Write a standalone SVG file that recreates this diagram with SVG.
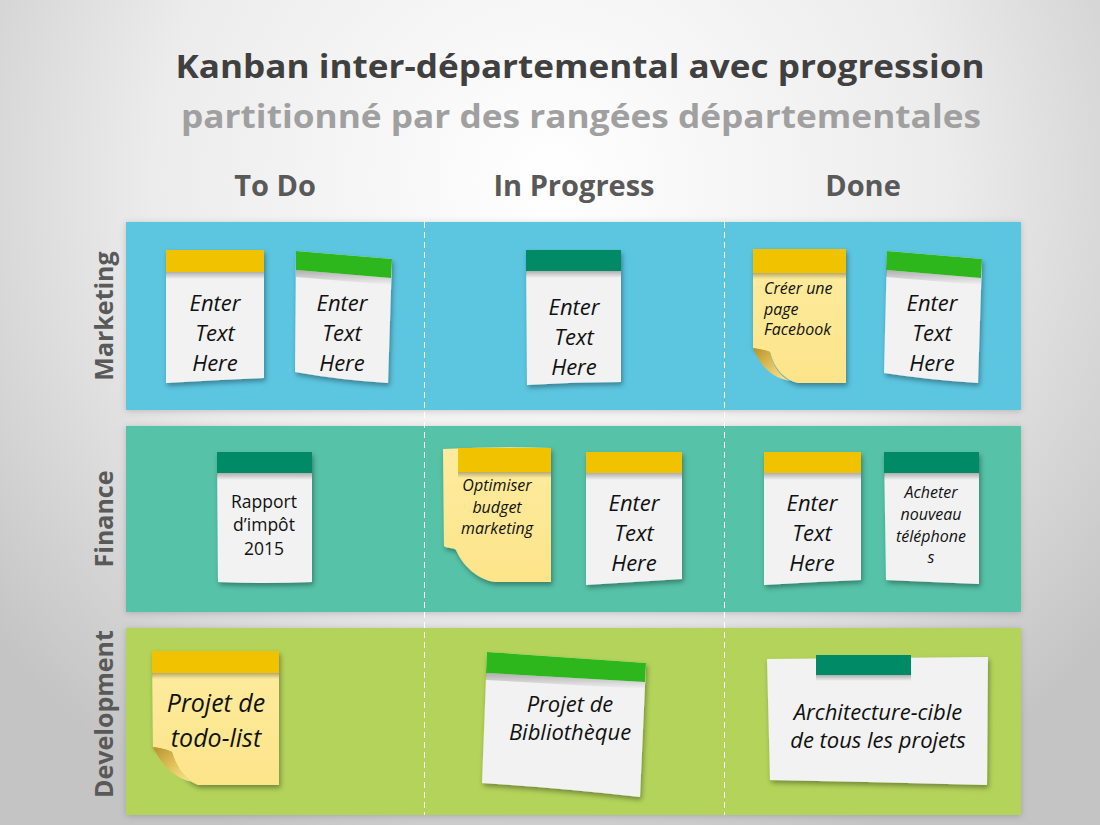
<svg xmlns="http://www.w3.org/2000/svg" width="1100" height="825" viewBox="0 0 1100 825">
<defs>
  <radialGradient id="bg" cx="550" cy="180" r="720" gradientUnits="userSpaceOnUse">
    <stop offset="0" stop-color="#ffffff"/>
    <stop offset="0.55" stop-color="#ececec"/>
    <stop offset="1" stop-color="#c4c4c4"/>
  </radialGradient>
  <linearGradient id="tabsh" x1="0" y1="0" x2="0" y2="1">
    <stop offset="0" stop-color="#000" stop-opacity="0.28"/>
    <stop offset="1" stop-color="#000" stop-opacity="0"/>
  </linearGradient>
  <linearGradient id="yel" x1="0" y1="0" x2="0" y2="1">
    <stop offset="0" stop-color="#fdec9f"/>
    <stop offset="1" stop-color="#fce48a"/>
  </linearGradient>
  <linearGradient id="curl" x1="0" y1="0" x2="1" y2="1">
    <stop offset="0" stop-color="#b8912a"/>
    <stop offset="0.6" stop-color="#e8c964"/>
    <stop offset="1" stop-color="#fbe59a"/>
  </linearGradient>
  <filter id="sh" x="-20%" y="-20%" width="140%" height="140%">
    <feDropShadow dx="1.5" dy="3" stdDeviation="2.5" flood-color="#000" flood-opacity="0.35"/>
  </filter>
  <filter id="rsh" x="-5%" y="-10%" width="110%" height="120%">
    <feDropShadow dx="0" dy="1" stdDeviation="3" flood-color="#000" flood-opacity="0.18"/>
  </filter>
  <style>
    .title{font-family:"Open Sans","Liberation Sans",sans-serif;font-weight:bold;font-size:33px;text-anchor:middle}
    .col{font-family:"Open Sans","Liberation Sans",sans-serif;font-weight:bold;font-size:29px;fill:#595959;text-anchor:middle}
    .row{font-family:"Open Sans","Liberation Sans",sans-serif;font-weight:bold;font-size:25px;fill:#595959;text-anchor:middle}
    .body{fill:#f2f2f2}
    .ybody{fill:url(#yel)}
    .yt{fill:#f0c200}
    .gt{fill:#2db71c}
    .tt{fill:#008a65}
    .tsh{fill:url(#tabsh)}
    .t{font-family:"Open Sans","Liberation Sans",sans-serif;font-style:italic;fill:#111;text-anchor:middle}
    .st{text-anchor:start}
    .big{font-size:22px}
    .mid{font-size:22px}
    .sm{font-size:16px}
  </style>
</defs>

<g id="background">
  <rect width="1100" height="825" fill="url(#bg)"/>
</g>

<g id="titles">
  <text class="title" x="580" y="78" fill="#404040" textLength="809" lengthAdjust="spacingAndGlyphs">Kanban inter-départemental avec progression</text>
  <text class="title" x="581" y="128" fill="#a0a0a0" textLength="800" lengthAdjust="spacingAndGlyphs">partitionné par des rangées départementales</text>
  <text class="col" x="275" y="196">To Do</text>
  <text class="col" x="574" y="196">In Progress</text>
  <text class="col" x="863" y="196">Done</text>
</g>

<g id="rows">
  <rect x="126" y="222" width="895" height="188" fill="#5bc5e0" filter="url(#rsh)"/>
  <rect x="126" y="426" width="895" height="186" fill="#57c2a7" filter="url(#rsh)"/>
  <rect x="126" y="628" width="895" height="187" fill="#b3d35a" filter="url(#rsh)"/>
  <text class="row" transform="translate(113,316) rotate(-90)">Marketing</text>
  <text class="row" transform="translate(113,519) rotate(-90)">Finance</text>
  <text class="row" transform="translate(113,714) rotate(-90)">Development</text>
</g>

<g id="connectors">
  <line x1="424.5" y1="222" x2="424.5" y2="815" stroke="#fff" stroke-width="1" stroke-dasharray="6 4"/>
  <line x1="724.5" y1="222" x2="724.5" y2="815" stroke="#fff" stroke-width="1" stroke-dasharray="6 4"/>
</g>

<!-- Marketing -->
<g id="note-mkt-todo-1">
  <path class="body" filter="url(#sh)" d="M166,250 H264 V378 Q215,380 166,383 Z"/>
  <rect class="tsh" x="166" y="272" width="98" height="7"/>
  <rect class="yt" x="166" y="250" width="98" height="22"/>
  <text class="t big" x="215" y="311">Enter</text>
  <text class="t big" x="215" y="341">Text</text>
  <text class="t big" x="215" y="371">Here</text>
</g>

<g id="note-mkt-todo-2">
  <path class="body" filter="url(#sh)" d="M296,251 L392,259 L388,383 Q340,380 295,372 Z"/>
  <polygon class="tsh" points="296,270 391,278 391,285 296,277"/>
  <polygon class="gt" points="296,251 392,259 391,278 296,270"/>
  <text class="t big" x="342" y="311">Enter</text>
  <text class="t big" x="342" y="341">Text</text>
  <text class="t big" x="342" y="371">Here</text>
</g>

<g id="note-mkt-progress-1">
  <path class="body" filter="url(#sh)" d="M526,250 H621 V382 Q574,382 527,385 Z"/>
  <rect class="tsh" x="526" y="271" width="95" height="7"/>
  <rect class="tt" x="526" y="250" width="95" height="21"/>
  <text class="t big" x="574" y="315">Enter</text>
  <text class="t big" x="574" y="345">Text</text>
  <text class="t big" x="574" y="375">Here</text>
</g>

<g id="note-mkt-done-1">
  <path class="ybody" filter="url(#sh)" d="M753,249 H846 V383 H798 C784,380 774,368 770,352 C765,350 758,349 753,348 Z"/>
  <path fill="url(#curl)" d="M753,348 C760,349 766,350 770,352 C773,366 780,376 790,381 C772,378 760,366 753,348 Z"/>
  <rect class="tsh" x="753" y="273" width="93" height="6"/>
  <rect class="yt" x="753" y="249" width="93" height="24"/>
  <text class="t sm st" x="764" y="294">Créer une</text>
  <text class="t sm st" x="764" y="315">page</text>
  <text class="t sm st" x="764" y="335">Facebook</text>
</g>

<g id="note-mkt-done-2">
  <path class="body" filter="url(#sh)" d="M887,251 L982,259 L978,383 Q930,380 884,373 Z"/>
  <polygon class="tsh" points="886,270 981,278 981,285 886,277"/>
  <polygon class="gt" points="887,251 982,259 981,278 886,270"/>
  <text class="t big" x="932" y="311">Enter</text>
  <text class="t big" x="932" y="341">Text</text>
  <text class="t big" x="932" y="371">Here</text>
</g>

<!-- Finance -->
<g id="note-fin-todo-1">
  <path class="body" filter="url(#sh)" d="M217,452 H312 V582 Q264,584 218,582 Z"/>
  <rect class="tsh" x="217" y="473" width="95" height="7"/>
  <rect class="tt" x="217" y="452" width="95" height="21"/>
  <text class="t" style="font-style:normal" font-size="17.5" x="264" y="508">Rapport</text>
  <text class="t" style="font-style:normal" font-size="17.5" x="264" y="531">d’impôt</text>
  <text class="t" style="font-style:normal" font-size="17.5" x="264" y="555">2015</text>
</g>

<g id="note-fin-progress-1">
  <path class="ybody" filter="url(#sh)" d="M443,449 Q500,446 551,448 V582 H495 C478,580 462,565 456,550 C452,547 448,549 444,546 Z"/>
  <rect class="tsh" x="458" y="472" width="93" height="6"/>
  <rect class="yt" x="458" y="448" width="93" height="24"/>
  <text class="t sm" x="497" y="491">Optimiser</text>
  <text class="t sm" x="497" y="513">budget</text>
  <text class="t sm" x="497" y="534">marketing</text>
</g>

<g id="note-fin-progress-2">
  <path class="body" filter="url(#sh)" d="M586,452 H682 V579 Q634,582 586,585 Z"/>
  <rect class="tsh" x="586" y="473" width="96" height="7"/>
  <rect class="yt" x="586" y="452" width="96" height="21"/>
  <text class="t big" x="634" y="511">Enter</text>
  <text class="t big" x="634" y="541">Text</text>
  <text class="t big" x="634" y="571">Here</text>
</g>

<g id="note-fin-done-1">
  <path class="body" filter="url(#sh)" d="M764,452 H861 V580 Q812,582 764,585 Z"/>
  <rect class="tsh" x="764" y="473" width="97" height="7"/>
  <rect class="yt" x="764" y="452" width="97" height="21"/>
  <text class="t big" x="812" y="511">Enter</text>
  <text class="t big" x="812" y="541">Text</text>
  <text class="t big" x="812" y="571">Here</text>
</g>

<g id="note-fin-done-2">
  <path class="body" filter="url(#sh)" d="M884,452 H979 V584 Q930,582 886,580 Z"/>
  <rect class="tsh" x="884" y="473" width="95" height="7"/>
  <rect class="tt" x="884" y="452" width="95" height="21"/>
  <text class="t sm" x="931" y="498">Acheter</text>
  <text class="t sm" x="931" y="520">nouveau</text>
  <text class="t sm" x="931" y="542">téléphone</text>
  <text class="t sm" x="931" y="563">s</text>
</g>

<!-- Development -->
<g id="note-dev-todo-1">
  <path class="ybody" filter="url(#sh)" d="M152,651 H279 V785 H198 C185,780 177,768 172,752 C166,749 159,748 153,747 Z"/>
  <path fill="url(#curl)" d="M153,747 C160,748 166,749 172,752 C176,766 183,776 192,782 C175,778 162,766 153,747 Z"/>
  <rect class="tsh" x="152" y="673" width="127" height="6"/>
  <rect class="yt" x="152" y="651" width="127" height="22"/>
  <text class="t" font-size="25" x="216" y="712">Projet de</text>
  <text class="t" font-size="25" x="216" y="747">todo-list</text>
</g>

<g id="note-dev-progress-1">
  <path class="body" filter="url(#sh)" d="M487,652 L646,663 L640,797 Q560,788 482,783 Z"/>
  <polygon class="tsh" points="486,673 645,682 645,689 486,680"/>
  <polygon class="gt" points="487,652 646,663 645,682 486,673"/>
  <text class="t mid" x="570" y="712">Projet de</text>
  <text class="t mid" x="570" y="740">Bibliothèque</text>
</g>

<g id="note-dev-done-1">
  <path class="body" filter="url(#sh)" d="M767,659 L988,657 L987,785 Q880,782 770,780 Z"/>
  <rect class="tsh" x="816" y="675" width="95" height="6"/>
  <rect class="tt" x="816" y="655" width="95" height="20"/>
  <text class="t mid" x="878" y="720">Architecture-cible</text>
  <text class="t mid" x="878" y="748">de tous les projets</text>
</g>
</svg>
